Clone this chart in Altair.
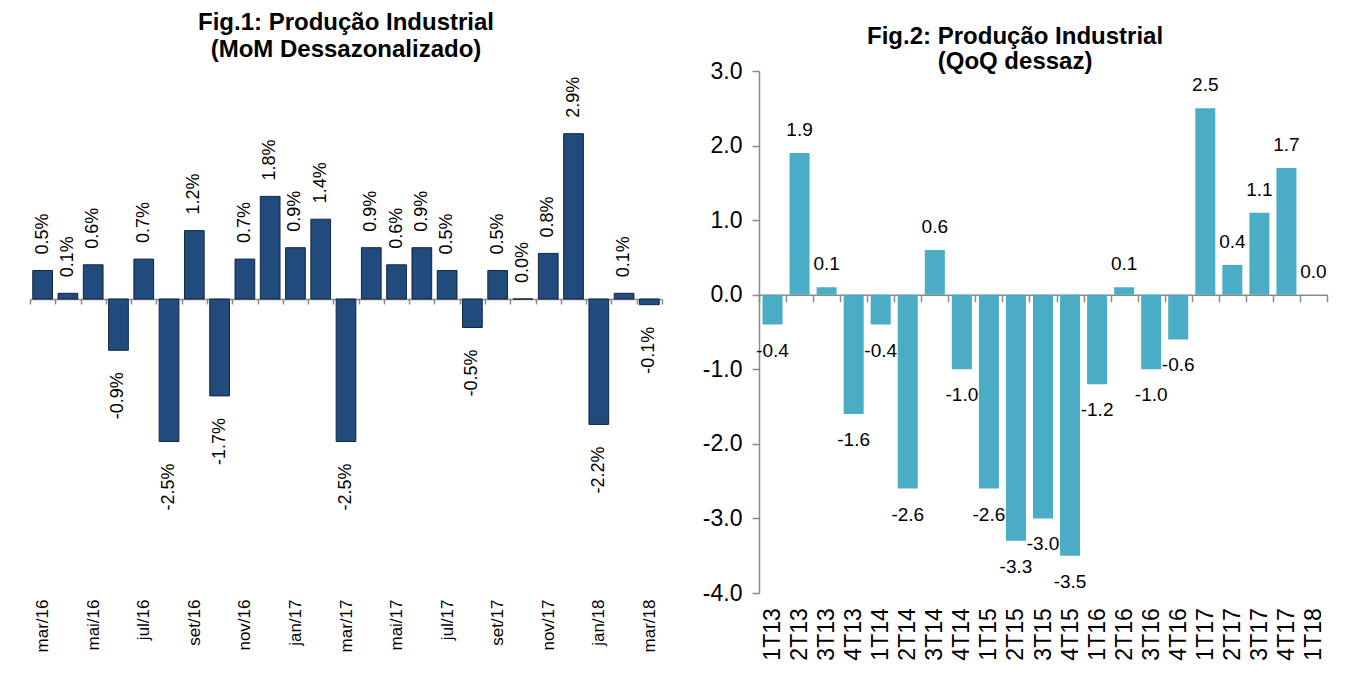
import altair as alt
import pandas as pd

# ---- data ----
months = ["mar/16", "abr/16", "mai/16", "jun/16", "jul/16", "ago/16", "set/16", "out/16",
          "nov/16", "dez/16", "jan/17", "fev/17", "mar/17", "abr/17", "mai/17", "jun/17",
          "jul/17", "ago/17", "set/17", "out/17", "nov/17", "dez/17", "jan/18", "fev/18", "mar/18"]
mom = [0.5, 0.1, 0.6, -0.9, 0.7, -2.5, 1.2, -1.7, 0.7, 1.8, 0.9, 1.4, -2.5, 0.9, 0.6, 0.9,
       0.5, -0.5, 0.5, 0.0, 0.8, 2.9, -2.2, 0.1, -0.1]
month_ticks = ["mar/16", "mai/16", "jul/16", "set/16", "nov/16", "jan/17", "mar/17",
               "mai/17", "jul/17", "set/17", "nov/17", "jan/18", "mar/18"]

quarters = ["1T13", "2T13", "3T13", "4T13", "1T14", "2T14", "3T14", "4T14", "1T15", "2T15",
            "3T15", "4T15", "1T16", "2T16", "3T16", "4T16", "1T17", "2T17", "3T17", "4T17", "1T18"]
qoq = [-0.4, 1.9, 0.1, -1.6, -0.4, -2.6, 0.6, -1.0, -2.6, -3.3, -3.0, -3.5, -1.2, 0.1, -1.0,
       -0.6, 2.5, 0.4, 1.1, 1.7, 0.0]
qoq_ticks = [-4, -3, -2, -1, 0, 1, 2, 3]

FONT = "Liberation Sans"
GRAY = "#8a8a8a"

df1 = pd.DataFrame({"m": months, "v": mom, "lbl": [f"{v:.1f}%" for v in mom]})
df2 = pd.DataFrame({"q": quarters, "v": qoq, "lbl": [f"{v:.1f}" for v in qoq]})

# ---- Fig 1 ----
W1, H1 = 632, 513
y1 = alt.Scale(domain=[-5, 4], nice=False, zero=False)
x1 = alt.X("m:N", sort=months, scale=alt.Scale(paddingInner=0, paddingOuter=0),
           axis=alt.Axis(title=None, orient="bottom", offset=-(H1 * 5 / 9),
                         domainColor=GRAY, domainWidth=1.5, tickColor=GRAY, tickWidth=1.5,
                         tickSize=5, tickBand="extent",
                         labelAngle=270, labelAlign="right", labelBaseline="middle",
                         labelFont=FONT, labelFontSize=17, labelColor="black",
                         labelPadding=295, labelOverlap=False,
                         labelExpr="indexof(" + str(month_ticks) + ", datum.value) >= 0 ? datum.value : ''"))

bars1 = alt.Chart(df1).mark_bar(width=alt.RelativeBandSize(0.78), color="#224b7d",
                                stroke="#10263f", strokeWidth=1).encode(
    x=x1, y=alt.Y("v:Q", scale=y1, axis=None))
pos1 = alt.Chart(df1).transform_filter("datum.v >= 0").mark_text(
    angle=270, align="left", baseline="middle", dx=16, font=FONT, fontSize=18, color="black").encode(
    x=alt.X("m:N", sort=months), y=alt.Y("v:Q", scale=y1, axis=None), text="lbl:N")
neg1 = alt.Chart(df1).transform_filter("datum.v < 0").mark_text(
    angle=270, align="right", baseline="middle", dx=-22, font=FONT, fontSize=18, color="black").encode(
    x=alt.X("m:N", sort=months), y=alt.Y("v:Q", scale=y1, axis=None), text="lbl:N")

fig1 = alt.layer(bars1, pos1, neg1).properties(
    width=W1, height=H1,
    title=alt.Title(text=["Fig.1: Produção Industrial", "(MoM Dessazonalizado)"],
                    font=FONT, fontSize=24, fontWeight="bold", lineHeight=27, color="black",
                    anchor="middle", offset=9))

# ---- Fig 2 ----
W2, H2 = 568, 522
y2 = alt.Scale(domain=[-4, 3], nice=False, zero=False)
x2 = alt.X("q:N", sort=quarters, scale=alt.Scale(paddingInner=0, paddingOuter=0),
           axis=alt.Axis(title=None, orient="bottom", offset=-(H2 * 4 / 7),
                         domainColor=GRAY, domainWidth=1.5, tickColor=GRAY, tickWidth=1.5,
                         tickSize=7, tickBand="extent",
                         labelAngle=270, labelAlign="right", labelBaseline="middle",
                         labelFont=FONT, labelFontSize=23, labelColor="black",
                         labelPadding=306, labelOverlap=False))

bars2 = alt.Chart(df2).mark_bar(width=alt.RelativeBandSize(0.74), color="#4bacc6").encode(
    x=x2,
    y=alt.Y("v:Q", scale=y2,
            axis=alt.Axis(title=None, values=qoq_ticks, grid=False, domainColor=GRAY,
                          domainWidth=1.5, tickColor=GRAY, tickWidth=1.5, tickSize=7,
                          labelFont=FONT, labelFontSize=23, labelColor="black", labelPadding=10,
                          labelExpr="replace(format(datum.value, '.1f'), '\u2212', '-')")))
pos2 = alt.Chart(df2).transform_filter("datum.v >= 0").mark_text(
    baseline="middle", dy=-23, font=FONT, fontSize=19, color="black").encode(
    x=alt.X("q:N", sort=quarters), y=alt.Y("v:Q", scale=y2), text="lbl:N")
neg2 = alt.Chart(df2).transform_filter("datum.v < 0").mark_text(
    baseline="middle", dy=26, font=FONT, fontSize=19, color="black").encode(
    x=alt.X("q:N", sort=quarters), y=alt.Y("v:Q", scale=y2), text="lbl:N")

fig2 = alt.layer(bars2, pos2, neg2).properties(
    width=W2, height=H2,
    title=alt.Title(text=["Fig.2: Produção Industrial", "(QoQ dessaz)"],
                    font=FONT, fontSize=24, fontWeight="bold", lineHeight=25, color="black",
                    anchor="middle", frame="bounds", offset=-14))

chart = alt.hconcat(fig1, fig2, spacing=97, bounds="flush").properties(
    padding={"left": 13, "top": 3, "right": 3, "bottom": 3}, background="white"
).configure_view(strokeWidth=0, stroke=None)

chart.save("out.html", embed_options={"renderer": "svg", "actions": False})
